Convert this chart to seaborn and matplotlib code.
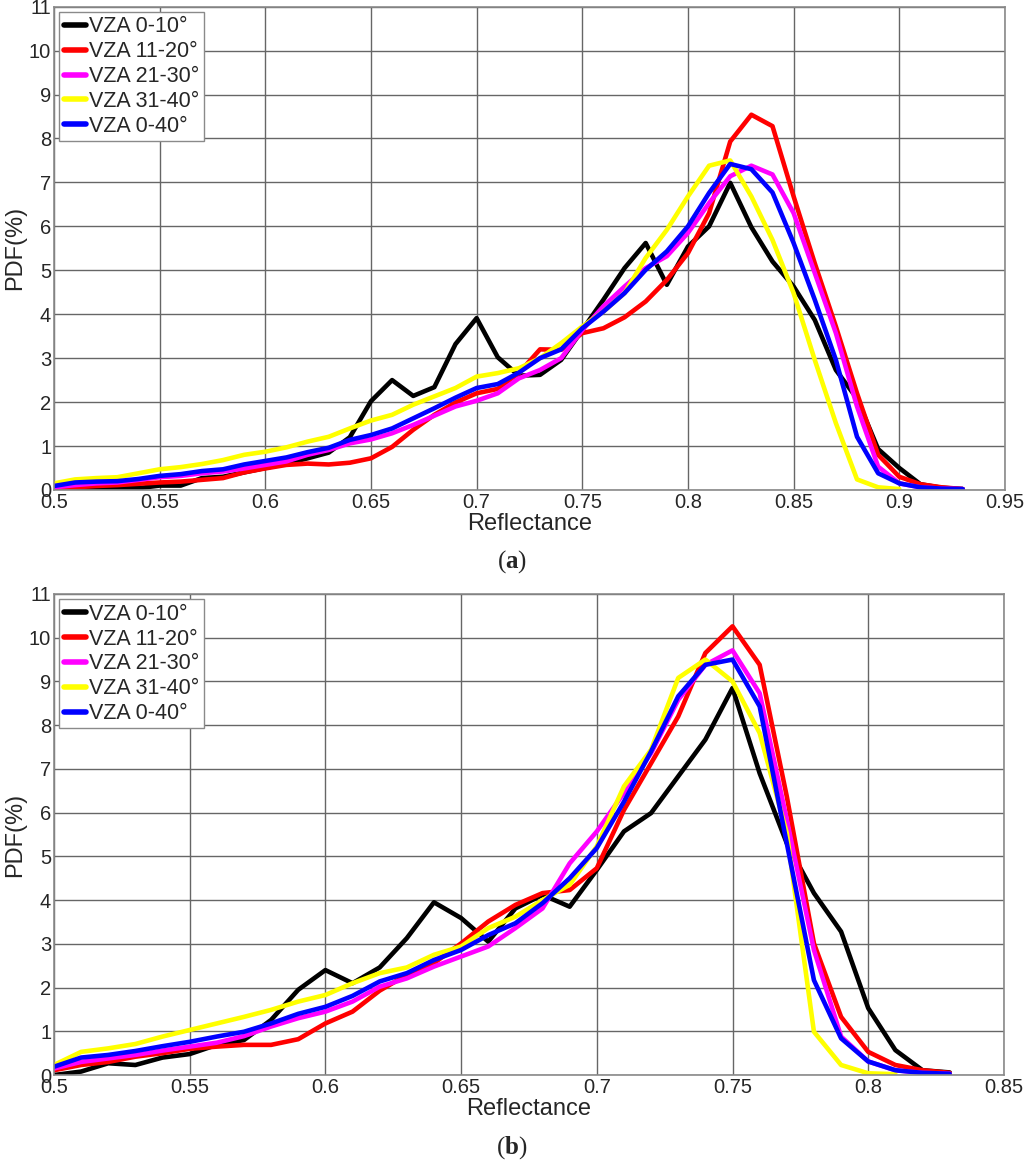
import numpy as np
import pandas as pd
import matplotlib
matplotlib.use("Agg")
import matplotlib.pyplot as plt
import seaborn as sns

# ---- data ----
labels = ["VZA 0-10°", "VZA 11-20°", "VZA 21-30°", "VZA 31-40°", "VZA 0-40°"]
colors = ["black", "red", "magenta", "yellow", "blue"]

# panel (a): reflectance steps of 0.01 starting at 0.50
a_black = [0, 0.04, 0.04, 0.04, 0.04, 0.1, 0.1, 0.27, 0.3, 0.4, 0.5, 0.6, 0.72, 0.85, 1.2,
           2.02, 2.5, 2.14, 2.34, 3.32, 3.91, 3.02, 2.6, 2.62, 2.96, 3.64, 4.33, 5.05, 5.62,
           4.67, 5.54, 6.0, 6.99, 5.98, 5.2, 4.63, 3.87, 2.73, 2.08, 0.93, 0.5, 0.13, 0.05, 0.02]
a_red = [0.04, 0.06, 0.09, 0.11, 0.14, 0.17, 0.19, 0.23, 0.27, 0.4, 0.49, 0.57, 0.6, 0.58, 0.62,
         0.72, 0.98, 1.37, 1.71, 1.99, 2.2, 2.3, 2.66, 3.2, 3.19, 3.57, 3.68, 3.93, 4.29, 4.78,
         5.39, 6.3, 7.93, 8.54, 8.28, 6.68, 5.16, 3.72, 2.2, 0.8, 0.3, 0.13, 0.06, 0.02]
a_magenta = [0.06, 0.11, 0.15, 0.17, 0.23, 0.29, 0.32, 0.38, 0.42, 0.49, 0.57, 0.65, 0.8, 0.91,
             1.06, 1.15, 1.29, 1.48, 1.69, 1.9, 2.03, 2.2, 2.54, 2.73, 3.0, 3.64, 4.18, 4.63,
             5.05, 5.32, 5.85, 6.53, 7.14, 7.38, 7.18, 6.3, 4.94, 3.57, 1.9, 0.53, 0.15, 0.06,
             0.03, 0.02]
a_yellow = [0.15, 0.24, 0.27, 0.29, 0.38, 0.47, 0.52, 0.59, 0.68, 0.8, 0.87, 0.97, 1.1, 1.21,
            1.4, 1.58, 1.71, 1.94, 2.13, 2.32, 2.58, 2.66, 2.77, 3.0, 3.34, 3.72, 4.06, 4.48,
            5.28, 5.92, 6.68, 7.38, 7.5, 6.68, 5.69, 4.48, 2.96, 1.52, 0.24, 0.06, 0.02]
a_blue = [0.09, 0.17, 0.19, 0.2, 0.25, 0.32, 0.36, 0.43, 0.47, 0.58, 0.66, 0.74, 0.86, 0.96,
          1.14, 1.25, 1.4, 1.63, 1.86, 2.1, 2.32, 2.41, 2.67, 3.0, 3.2, 3.68, 4.06, 4.48, 5.01,
          5.43, 6.0, 6.76, 7.42, 7.3, 6.77, 5.62, 4.33, 2.96, 1.21, 0.38, 0.15, 0.06, 0.03, 0.02]

# panel (b)
b_black = [0, 0.08, 0.27, 0.23, 0.4, 0.48, 0.69, 0.8, 1.26, 1.95, 2.4, 2.1, 2.46, 3.13, 3.95,
           3.59, 3.05, 3.81, 4.12, 3.85, 4.69, 5.57, 5.99, 6.83, 7.67, 8.85, 6.9, 5.3, 4.16,
           3.28, 1.53, 0.57, 0.11, 0.06]
b_red = [0.11, 0.23, 0.3, 0.42, 0.5, 0.6, 0.65, 0.69, 0.69, 0.82, 1.18, 1.45, 1.93, 2.29, 2.56,
         3.01, 3.51, 3.89, 4.16, 4.23, 4.73, 6.06, 7.13, 8.2, 9.65, 10.26, 9.38, 6.37, 3.01,
         1.33, 0.53, 0.23, 0.11, 0.05]
b_magenta = [0.15, 0.3, 0.38, 0.46, 0.56, 0.65, 0.74, 0.89, 1.11, 1.3, 1.45, 1.68, 2.02, 2.21,
             2.48, 2.71, 2.94, 3.36, 3.81, 4.84, 5.57, 6.45, 7.36, 8.58, 9.38, 9.71, 8.73, 5.84,
             2.86, 0.88, 0.31, 0.11, 0.05, 0.03]
b_yellow = [0.23, 0.53, 0.61, 0.71, 0.88, 1.03, 1.18, 1.33, 1.49, 1.68, 1.83, 2.1, 2.33, 2.46,
            2.75, 2.94, 3.36, 3.62, 4.0, 4.35, 5.23, 6.6, 7.44, 9.08, 9.5, 9.0, 7.82, 5.53, 0.99,
            0.23, 0.04, 0.02]
b_blue = [0.19, 0.4, 0.46, 0.55, 0.66, 0.76, 0.88, 0.99, 1.18, 1.4, 1.56, 1.81, 2.14, 2.33,
          2.63, 2.86, 3.2, 3.47, 3.93, 4.5, 5.19, 6.25, 7.4, 8.66, 9.38, 9.5, 8.43, 5.3, 2.17,
          0.84, 0.31, 0.11, 0.05, 0.03]

panel_a = [a_black, a_red, a_magenta, a_yellow, a_blue]
panel_b = [b_black, b_red, b_magenta, b_yellow, b_blue]

sns.set_style("white")
plt.rcParams["font.family"] = ["Liberation Sans", "DejaVu Sans"]
plt.rcParams["mathtext.fontset"] = "custom"
plt.rcParams["mathtext.rm"] = "Liberation Serif"
plt.rcParams["mathtext.bf"] = "Liberation Serif:bold"

fig = plt.figure(figsize=(10.24, 11.66), dpi=100)
ax1 = fig.add_axes([0.0527, 0.5798, 0.9287, 0.4145])
ax2 = fig.add_axes([0.0527, 0.078, 0.9277, 0.4126])


def draw_panel(ax, series, xmax, xticks):
    for vals, lab, col in zip(series, labels, colors):
        x = np.round(0.5 + 0.01 * np.arange(len(vals)), 2)
        sns.lineplot(x=x, y=vals, ax=ax, color=col, lw=3.3, label=lab)
    ax.set_xlim(0.5, xmax)
    ax.set_ylim(0, 11)
    ax.set_xticks(xticks)
    ax.set_xticklabels([f"{t:g}" for t in xticks])
    ax.set_yticks(range(0, 12))
    ax.grid(True, color="#666666", lw=1.0)
    for s in ax.spines.values():
        s.set_color("#8a8a8a")
        s.set_linewidth(1.2)
    ax.tick_params(length=0, labelsize=14.5, pad=2)
    ax.set_xlabel("Reflectance", fontsize=17, labelpad=1)
    ax.set_ylabel("PDF(%)", fontsize=17, labelpad=2)
    leg = ax.legend(loc="upper left", fontsize=15.5, handlelength=1.05, handletextpad=0.15,
                    labelspacing=0.18, borderpad=0.2, borderaxespad=0.25, fancybox=False,
                    framealpha=1)
    leg.get_frame().set_edgecolor("#8a8a8a")
    for h in leg.get_lines():
        h.set_linewidth(4)


draw_panel(ax1, panel_a, 0.95, np.arange(0.5, 0.951, 0.05).round(2))
draw_panel(ax2, panel_b, 0.85, np.arange(0.5, 0.851, 0.05).round(2))

for tag, ypos in [("a", 0.518), ("b", 0.0155)]:
    fig.text(0.5, ypos, r"$\mathrm{(}\mathbf{" + tag + r"}\mathrm{)}$", ha="center",
             va="center", fontsize=18)

fig.savefig("out.png", dpi=100)
